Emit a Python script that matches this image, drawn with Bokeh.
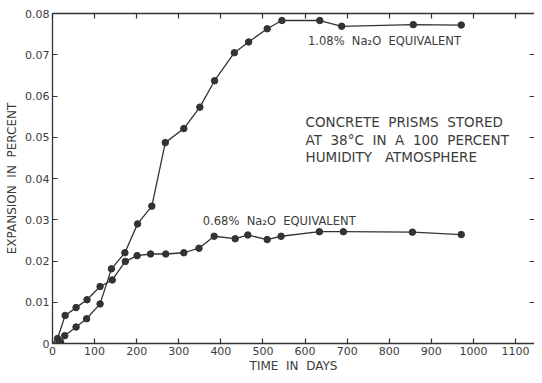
from bokeh.plotting import figure
from bokeh.models import LinearAxis, FixedTicker, Label, Range1d
from bokeh.embed import file_html
from bokeh.resources import INLINE

# ---- data ----
days_108 = [0, 19, 29, 56, 81, 113, 140, 172, 202, 236, 268, 312, 350, 385, 432, 466, 510, 545, 635, 687, 857, 971]
exp_108 = [0, 0.0004, 0.0019, 0.0040, 0.0060, 0.0096, 0.0181, 0.0220, 0.0290, 0.0333, 0.0487, 0.0521,
           0.0573, 0.0637, 0.0705, 0.0731, 0.0763, 0.0783, 0.0783, 0.0769, 0.0773, 0.0772]

days_068 = [0, 12, 30, 56, 82, 113, 142, 173, 201, 233, 269, 312, 348, 384, 434, 464, 510, 543, 634, 691, 855, 971]
exp_068 = [0, 0.0012, 0.0068, 0.0087, 0.0106, 0.0138, 0.0154, 0.0199, 0.0213, 0.0217, 0.0217, 0.0220,
           0.0231, 0.0260, 0.0254, 0.0263, 0.0252, 0.0260, 0.0271, 0.0271, 0.0270, 0.0264]

x_ticks = [0, 100, 200, 300, 400, 500, 600, 700, 800, 900, 1000, 1100]
y_ticks = [0, 0.01, 0.02, 0.03, 0.04, 0.05, 0.06, 0.07, 0.08]
y_tick_labels = ["0", "0.01", "0.02", "0.03", "0.04", "0.05", "0.06", "0.07", "0.08"]

S = "\u00a0"
label_108 = f"1.08%{S}{S}Na\u2082O{S}{S}EQUIVALENT"
label_068 = f"0.68%{S}{S}Na\u2082O{S}{S}EQUIVALENT"
note_lines = [f"CONCRETE{S}{S}PRISMS{S}{S}STORED",
              f"AT{S}{S}38\u00b0C{S}{S}IN{S}{S}A{S}{S}100{S}{S}PERCENT",
              f"HUMIDITY{S}{S}{S}ATMOSPHERE"]
x_title = f"TIME{S}{S}IN{S}{S}DAYS"
y_title = f"EXPANSION{S}{S}IN{S}{S}PERCENT"

FONT = "DejaVu Sans"
INK = "#333333"
TXT = "#3c3c3c"

p = figure(width=534, height=375, output_backend="svg", toolbar_location=None,
           x_range=Range1d(0, 1145), y_range=Range1d(0, 0.08),
           min_border_left=52, min_border_right=0, min_border_top=13, min_border_bottom=30)
p.outline_line_color = None
p.xgrid.visible = False
p.ygrid.visible = False
p.background_fill_color = "white"
p.border_fill_color = "white"

p.line(days_108, exp_108, line_color=INK, line_width=1.3)
p.scatter(days_108[1:], exp_108[1:], size=6.5, fill_color=INK, line_color=INK)
p.line(days_068, exp_068, line_color=INK, line_width=1.3)
p.scatter(days_068[1:], exp_068[1:], size=6.5, fill_color=INK, line_color=INK)

def style(ax, labels=True):
    ax.axis_line_color = INK
    ax.axis_line_width = 1.3
    ax.major_tick_line_color = INK
    ax.major_tick_line_width = 1.2
    ax.major_tick_in = 5
    ax.major_tick_out = 0
    ax.minor_tick_line_color = None
    ax.major_label_text_font = FONT
    ax.major_label_text_color = TXT
    ax.axis_label_text_font = FONT
    ax.axis_label_text_color = TXT
    ax.axis_label_text_font_style = "normal"
    if not labels:
        ax.major_label_text_font_size = "1px"
        ax.major_label_text_color = None
        ax.major_label_standoff = 0

xa = p.xaxis[0]
style(xa)
xa.ticker = FixedTicker(ticks=x_ticks)
xa.major_label_text_font_size = "11px"
xa.major_label_standoff = 3
xa.axis_label = x_title
xa.axis_label_text_font_size = "12px"
xa.axis_label_standoff = 1

ya = p.yaxis[0]
style(ya)
ya.ticker = FixedTicker(ticks=y_ticks)
ya.major_label_overrides = {t: s for t, s in zip(y_ticks, y_tick_labels)}
ya.major_label_text_font_size = "11px"
ya.major_label_standoff = 3
ya.axis_label = y_title
ya.axis_label_text_font_size = "12px"
ya.axis_label_standoff = 3

top = LinearAxis(ticker=FixedTicker(ticks=x_ticks))
style(top, labels=False)
p.add_layout(top, "above")

right = LinearAxis(ticker=FixedTicker(ticks=y_ticks))
style(right, labels=False)
right.axis_line_color = None
p.add_layout(right, "right")

def add_label(x, y, text, size):
    p.add_layout(Label(x=x, y=y, text=text, text_font=FONT, text_font_size=size,
                       text_color=TXT, text_baseline="middle", text_align="left"))

add_label(607, 0.0733, label_108, "11.5px")
add_label(357, 0.0297, label_068, "11.5px")
for yy, line in zip([0.0536, 0.0494, 0.0452], note_lines):
    add_label(601, yy, line, "13.5px")

open("out.html", "w").write(file_html(p, INLINE))
